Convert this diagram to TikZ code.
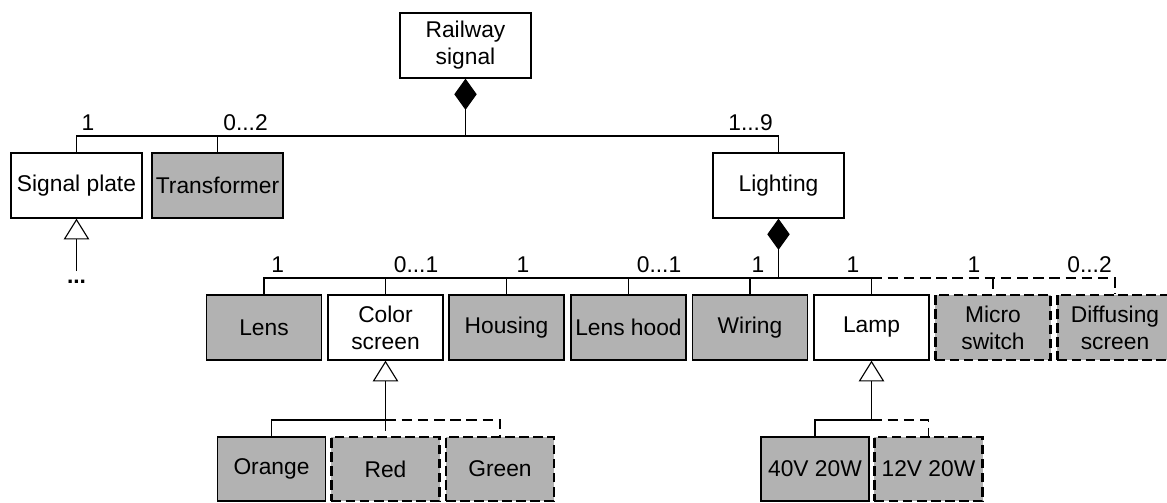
\documentclass[tikz,border=0pt]{standalone}
\usepackage{fontspec}
\setmainfont{Liberation Sans}
\usepackage{tikz}
\usetikzlibrary{arrows.meta}
\usepackage{xcolor}
\definecolor{PartGray}{HTML}{B2B2B2}

\begin{document}
\begin{tikzpicture}[
  x=0.025cm,y=-0.025cm,font=\fontsize{16.2}{19.3}\selectfont,
  part/.style={draw=black,fill=white,line width=0.95pt,inner sep=0pt,
    minimum height=1.625cm,align=center},
  wide/.style={part,minimum width=3.275cm},
  mid/.style={part,minimum width=2.875cm},
  leaf/.style={part,minimum width=2.7cm,minimum height=1.6cm},
  shaded/.style={fill=PartGray},
  optional/.style={fill=PartGray,line width=1.6pt,dash pattern=on 7pt off 3pt},
  link/.style={draw=black,line width=0.8pt},
  optlink/.style={link,line width=1.3pt,dash pattern=on 7.5pt off 4pt},
  comp/.style={link,{Diamond[length=0.78cm,width=0.56cm]}-},
  gen/.style={link,-{Triangle[length=0.52cm,width=0.64cm,fill=white]}},
  mult/.style={anchor=base}
]
\useasboundingbox (0,0) rectangle (1167,502);

% Composition root and its first level parts
\node[wide] (rail) at (465.5,45.5) {Railway\\signal};
\node[wide] (plate) at (76.5,185.5) {Signal plate};
\node[wide,shaded] (trafo) at (217.5,185.5) {Transformer};
\node[wide] (light) at (778.5,185.5) {Lighting};

% Parts of the lighting
\node[mid,shaded] (lens) at (264,327.5) {Lens};
\node[mid] (cscreen) at (385.5,327.5) {Color\\screen};
\node[mid,shaded] (housing) at (506.5,327.5) {Housing};
\node[mid,shaded] (hood) at (628.5,327.5) {Lens hood};
\node[mid,shaded] (wiring) at (750,327.5) {Wiring};
\node[mid] (lamp) at (871.5,327.5) {Lamp};
\node[mid,optional] (micro) at (993,327.5) {Micro\\switch};
\node[mid,optional] (diffuse) at (1115,327.5) {Diffusing\\screen};

% Variants
\node[leaf,shaded] (orange) at (271.5,469) {Orange};
\node[leaf,optional] (red) at (385.5,469) {Red};
\node[leaf,optional] (green) at (500,469) {Green};
\node[leaf,shaded] (v40) at (815,469) {40V 20W};
\node[leaf,optional] (v12) at (928.5,469) {12V 20W};

\coordinate (top) at (465.5,136);
\coordinate (mid) at (778.5,278);
\coordinate (cs) at (385.5,420);
\coordinate (lp) at (871.5,420);
\coordinate (more) at (76.5,271);

\draw[comp] (rail.south) -- (top);
\draw[link] (plate.north) |- (top);
\draw[link] (trafo.north) |- (top);
\draw[link] (light.north) |- (top);

\draw[comp] (light.south) -- (mid);
\foreach \p in {lens,cscreen,housing,hood,wiring,lamp}
  \draw[link] (\p.north) |- (mid);
\draw[optlink] (lamp.north |- mid) -| (diffuse.north);
\draw[optlink] (micro.north |- mid) -- (micro.north);

\draw[gen] (cs) -- (cscreen.south);
\draw[link] (orange.north) |- (cs);
\draw[optlink] (cs) -| (green.north);
\draw[optlink] (cs) -- (red.north);

\draw[gen] (lp) -- (lamp.south);
\draw[link] (v40.north) |- (lp);
\draw[optlink] (lp) -| (v12.north);

\draw[gen] (more) -- (plate.south);
\node[font=\fontsize{16.2}{19.3}\selectfont\bfseries] (dots) at (76.5,282) {...};

% Multiplicities
\node[mult] (n-plate) at (88,130) {1};
\node[mult] (n-trafo) at (245.5,130) {0...2};
\node[mult] (n-light) at (750.5,130) {1...9};
\node[mult] (n-lens) at (277.7,272) {1};
\node[mult] (n-cscreen) at (416,272) {0...1};
\node[mult] (n-housing) at (523,272) {1};
\node[mult] (n-hood) at (659,272) {0...1};
\node[mult] (n-wiring) at (758,272) {1};
\node[mult] (n-lamp) at (853,272) {1};
\node[mult] (n-micro) at (974,272) {1};
\node[mult] (n-diffuse) at (1089.5,272) {0...2};

\end{tikzpicture}
\end{document}
